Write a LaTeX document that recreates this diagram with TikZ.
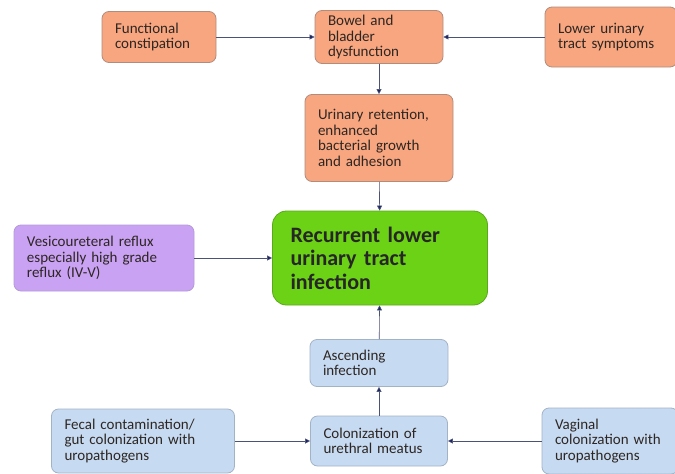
\documentclass[tikz,border=0pt]{standalone}
\usepackage{fontspec}
\setmainfont{Carlito}
\usetikzlibrary{arrows.meta}

\definecolor{peach}{HTML}{F7A680}
\definecolor{peachline}{HTML}{B08C7C}
\definecolor{lilac}{HTML}{C9A2F4}
\definecolor{lilacline}{HTML}{B59AD8}
\definecolor{limeg}{HTML}{6CD215}
\definecolor{limeline}{HTML}{5BA81C}
\definecolor{paleblue}{HTML}{C6DAF2}
\definecolor{paleline}{HTML}{A3B3C6}
\definecolor{inkc}{HTML}{2E2622}
\definecolor{wire}{HTML}{4A5275}
\definecolor{tipc}{HTML}{1B2461}

\begin{document}
\begin{tikzpicture}[x=1pt,y=-1pt,
  box/.style={rounded corners=7pt, line width=0.8pt, text=inkc, align=left,
    inner xsep=13pt, inner ysep=2pt, font=\fontsize{15}{15.5}\selectfont},
  orbox/.style={box, draw=peachline, fill=peach},
  vubox/.style={box, draw=lilacline, fill=lilac},
  blbox/.style={box, draw=paleline, fill=paleblue},
  recbox/.style={box, rounded corners=14pt, draw=limeline, fill=limeg, inner xsep=18pt,
    font=\fontsize{22}{23.5}\selectfont\bfseries, text=black!85},
  arr/.style={draw=wire, line width=0.6pt, -{Triangle[length=5pt,width=5pt,fill=tipc]}}]
  \useasboundingbox (0,0) rectangle (675,474);

  % top row
  \node[orbox, text width=88pt, minimum height=51pt] (fc) at (159,37) {Functional\\constipation};
  \node[orbox, text width=102pt, minimum height=53pt] (bbd) at (379,37) {Bowel and\\bladder\\dysfunction};
  \node[orbox, text width=106pt, minimum height=60pt] (luts) at (611,37) {Lower urinary\\tract symptoms};
  \node[orbox, text width=122pt, minimum height=87pt] (ur) at (379,138) {Urinary retention,\\enhanced\\bacterial growth\\and adhesion};

  % middle
  \node[vubox, text width=154pt, minimum height=66pt] (vur) at (104,258) {Vesicoureteral reflux\\especially high grade\\reflux (IV-V)};
  \node[recbox, text width=179pt, minimum height=94pt] (rec) at (380,258) {Recurrent lower\\urinary tract\\infection};

  % bottom
  \node[blbox, text width=112pt, minimum height=47pt] (asc) at (379,363) {Ascending\\infection};
  \node[blbox, text width=111pt, minimum height=50pt] (col) at (379,441) {Colonization of\\urethral meatus};
  \node[blbox, text width=157pt, minimum height=64pt] (fecal) at (143,441) {Fecal contamination/\\gut colonization with\\uropathogens};
  \node[blbox, text width=110pt, minimum height=66pt] (vag) at (610,441) {Vaginal\\colonization with\\uropathogens};

  \draw[arr] (fc) -- (bbd);
  \draw[arr] (luts) -- (bbd);
  \draw[arr] (bbd) -- (ur);
  \draw[arr] (ur) -- (rec);
  \draw[arr] (vur) -- (rec);
  \draw[arr] (asc) -- (rec);
  \draw[arr] (col) -- (asc);
  \draw[arr] (fecal) -- (col);
  \draw[arr] (vag) -- (col);
\end{tikzpicture}
\end{document}
